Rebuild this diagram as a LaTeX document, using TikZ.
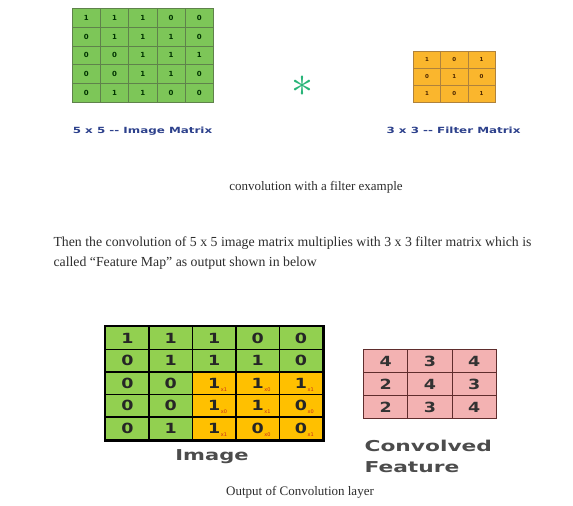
\documentclass[tikz,border=0pt]{standalone}
\usepackage{fontspec}
\usepackage{graphicx}
\setmainfont{Liberation Serif}
\newfontfamily\dvs{DejaVu Sans}
\definecolor{tgreen}{RGB}{125,198,88}
\definecolor{tgline}{RGB}{95,130,75}
\definecolor{torange}{RGB}{250,182,45}
\definecolor{toline}{RGB}{175,130,60}
\definecolor{bgreen}{RGB}{146,208,80}
\definecolor{borange}{RGB}{255,192,0}
\definecolor{pinkc}{RGB}{243,178,178}
\definecolor{pinkline}{RGB}{95,45,45}
\definecolor{lblue}{RGB}{45,65,140}
\definecolor{astc}{RGB}{40,180,120}
\definecolor{txt}{RGB}{45,45,45}
\definecolor{subred}{RGB}{200,40,30}
\tikzset{
  tcell/.style={draw=tgline,line width=0.6pt,fill=tgreen,minimum width=28.2pt,minimum height=18.8pt,inner sep=0pt,anchor=north west,font=\dvs\bfseries\fontsize{7}{7}\selectfont,text=black!80!green},
  fcell/.style={draw=toline,line width=0.6pt,fill=torange,minimum width=27.3pt,minimum height=17pt,inner sep=0pt,anchor=north west,font=\dvs\bfseries\fontsize{5.5}{5.5}\selectfont,text=black!70!orange},
  bcell/.style={draw=black,line width=1.4pt,minimum width=43.4pt,minimum height=22.6pt,inner sep=0pt,anchor=north west,font=\dvs\bfseries\fontsize{14}{14}\selectfont,text=black!85},
  pcell/.style={draw=pinkline,line width=1pt,fill=pinkc,minimum width=44.3pt,minimum height=23pt,inner sep=0pt,anchor=north west,font=\dvs\bfseries\fontsize{14}{14}\selectfont,text=black!80},
  lbl/.style={font=\dvs\bfseries\fontsize{8.5}{8.5}\selectfont,text=lblue},
  captxt/.style={font=\fontsize{13}{15}\selectfont,text=txt},
  bigtxt/.style={font=\dvs\bfseries\fontsize{15}{15}\selectfont,text=black!70},
  subtxt/.style={font=\dvs\fontsize{5}{5}\selectfont,text=subred,inner sep=0pt}
}
\newcommand{\wide}[1]{\scalebox{1.25}[1]{#1}}
\newcommand{\wider}[1]{\scalebox{1.4}[1]{#1}}
\begin{document}
\begin{tikzpicture}[x=1pt,y=-1pt]
\useasboundingbox (0,0) rectangle (573,506);
\fill[white] (0,0) rectangle (573,506);
% top image matrix
\foreach \r/\row in {0/{1,1,1,0,0},1/{0,1,1,1,0},2/{0,0,1,1,1},3/{0,0,1,1,0},4/{0,1,1,0,0}}{
  \foreach \v [count=\c from 0] in \row {
    \node[tcell] (t\r\c) at (72+\c*28.2, 8+\r*18.8) {\v};
  }
}
\node[lbl] (tl) at (142.5,131) {\wider{5 x 5 -- Image Matrix}};
% asterisk
\node[text=astc,inner sep=0pt] (ast) at (302,86) {\scalebox{4.4}{$\ast$}};
% filter
\foreach \r/\row in {0/{1,0,1},1/{0,1,0},2/{1,0,1}}{
  \foreach \v [count=\c from 0] in \row {
    \node[fcell] (f\r\c) at (413+\c*27.3, 51+\r*17) {\v};
  }
}
\node[lbl] (fl) at (453.5,130) {\wider{3 x 3 -- Filter Matrix}};
% captions
\node[captxt] (c1) at (316,187) {convolution with a filter example};
\node[captxt,anchor=west,font=\fontsize{13.8}{15}\selectfont] (c2) at (50,243) {Then the convolution of 5 x 5 image matrix multiplies with 3 x 3 filter matrix which is};
\node[captxt,anchor=west,font=\fontsize{13.8}{15}\selectfont] (c3) at (50,263) {called ``Feature Map'' as output shown in below};
% bottom image
\foreach \r/\row in {0/{1,1,1,0,0},1/{0,1,1,1,0},2/{0,0,1,1,1},3/{0,0,1,1,0},4/{0,1,1,0,0}}{
  \foreach \v [count=\c from 0] in \row {
    \pgfmathsetmacro{\isor}{(\r>1 && \c>1) ? 1 : 0}
    \ifdim\isor pt>0.5pt
      \node[bcell,fill=borange] (b\r\c) at (105+\c*43.4, 326+\r*22.6) {\wide{\v}};
    \else
      \node[bcell,fill=bgreen] (b\r\c) at (105+\c*43.4, 326+\r*22.6) {\wide{\v}};
    \fi
  }
}
\draw[line width=2.6pt] (b00.north west) rectangle (b44.south east);
% subscripts
\foreach \r/\c/\s in {2/2/1,2/3/0,2/4/1,3/2/0,3/3/1,3/4/0,4/2/1,4/3/0,4/4/1}{
  \node[subtxt,anchor=west] (s\r\c) at ([xshift=6.5pt,yshift=-6pt]b\r\c.center) {x\s};
}
\node[bigtxt] (il) at (212,457) {\wider{Image}};
% convolved feature
\foreach \r/\row in {0/{4,3,4},1/{2,4,3},2/{2,3,4}}{
  \foreach \v [count=\c from 0] in \row {
    \node[pcell] (p\r\c) at (363+\c*44.3, 349+\r*23) {\wide{\v}};
  }
}
\node[bigtxt,anchor=west] (cl1) at (361,446) {\scalebox{1.45}[1]{Convolved}};
\node[bigtxt,anchor=west] (cl2) at (361,467) {\scalebox{1.45}[1]{Feature}};
\node[captxt] (c4) at (300,492) {Output of Convolution layer};
\end{tikzpicture}
\end{document}
